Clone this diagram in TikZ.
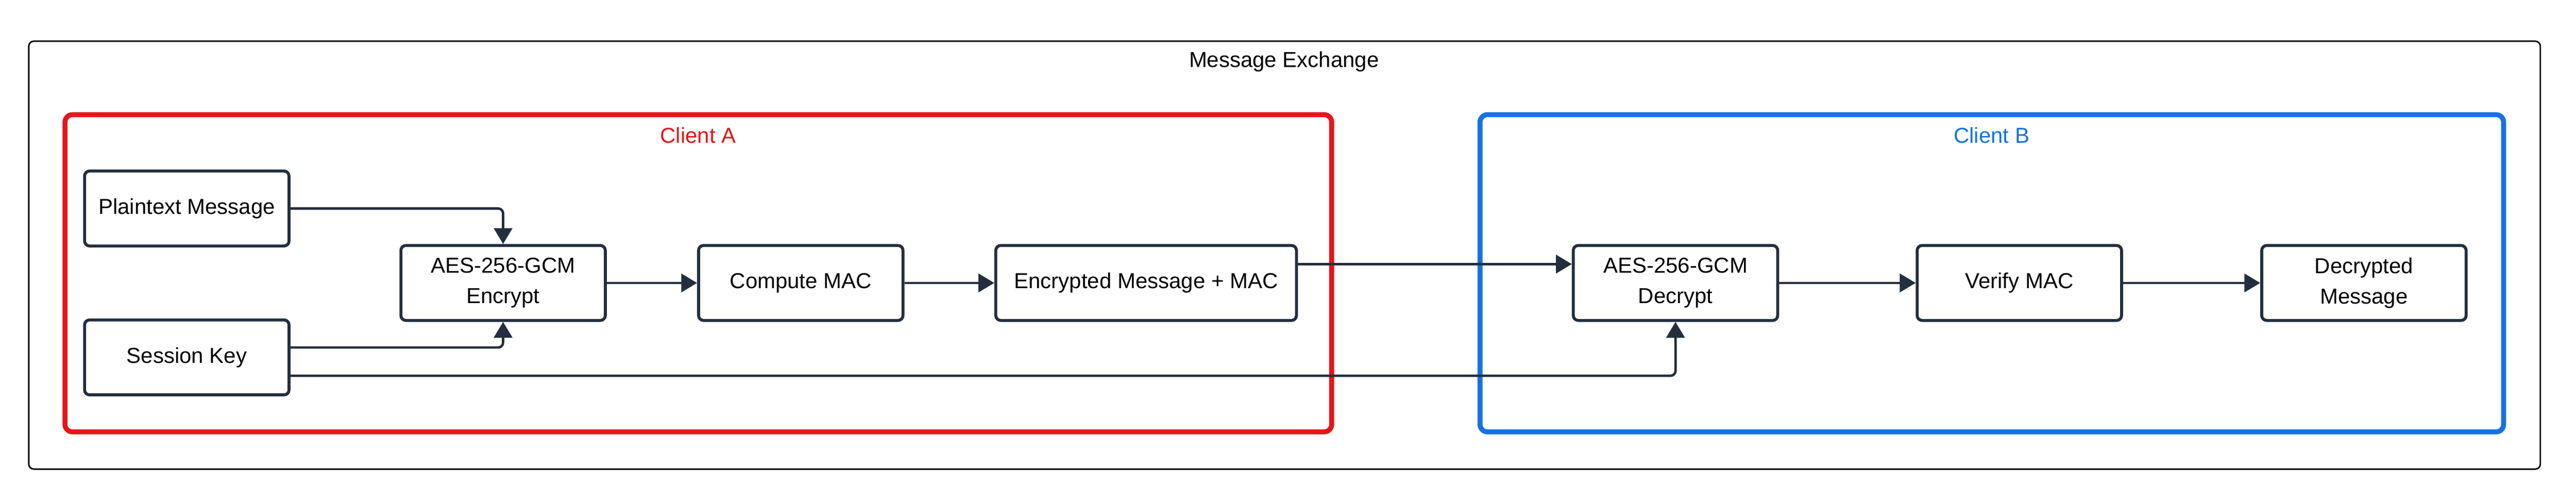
\documentclass[tikz,border=0pt]{standalone}
\usepackage{fontspec}
\setmainfont{Liberation Sans}
\usepackage{xcolor}
\usetikzlibrary{arrows.meta}
\definecolor{navy}{HTML}{232F3E}
\definecolor{cred}{HTML}{E4161B}
\definecolor{cblue}{HTML}{1472E2}

\begin{document}
\begin{tikzpicture}[x=1cm,y=-1cm,
  font=\fontsize{12.4}{17.4}\selectfont,
  >={Triangle[length=3.2mm,width=3.7mm]},
  box/.style={shape=rectangle,draw=navy,line width=1.7pt,rounded corners=1mm,
    minimum width=4.12cm,minimum height=1.51cm,align=center,fill=white},
  link/.style={->,navy,line width=1.4pt,rounded corners=1mm}]
\useasboundingbox (0,0) rectangle (51.92,10.07);
% frames
\draw[line width=0.85pt,rounded corners=1mm] (0.58,0.83) rectangle (51.20,9.45);
\draw[cred,line width=2.85pt,rounded corners=1.5mm] (1.31,2.31) rectangle (26.84,8.70);
\draw[cblue,line width=2.85pt,rounded corners=1.5mm] (29.83,2.31) rectangle (50.46,8.70);
\node (X) at (25.88,1.24) {Message Exchange};
\node[text=cred] (LA) at (14.07,2.73) {Client A};
\node[text=cblue] (LB) at (40.14,2.73) {Client B};
% steps
\node[box] (A) at (3.765,4.20) {Plaintext Message};
\node[box] (B) at (3.765,7.20) {Session Key};
\node[box] (C) at (10.14,5.70) {AES-256-GCM\\Encrypt};
\node[box] (D) at (16.14,5.70) {Compute MAC};
\node[box,minimum width=6.06cm] (E) at (23.10,5.70) {Encrypted Message + MAC};
\node[box] (F) at (33.77,5.70) {AES-256-GCM\\Decrypt};
\node[box] (G) at (40.70,5.70) {Verify MAC};
\node[box] (H) at (47.645,5.70) {Decrypted\\Message};
\draw [link] (A.east) -| (C.north);
\draw [link] ([yshift=2mm]B.east) -| (C.south);
\draw [link] ([yshift=-3.7mm]B.east) -| (F.south);
\draw [link] (C) -- (D);
\draw [link] (D) -- (E);
\draw [link] ([yshift=3.8mm]E.east) -- ([yshift=3.8mm]F.west);
\draw [link] (F) -- (G);
\draw [link] (G) -- (H);
\end{tikzpicture}
\end{document}
